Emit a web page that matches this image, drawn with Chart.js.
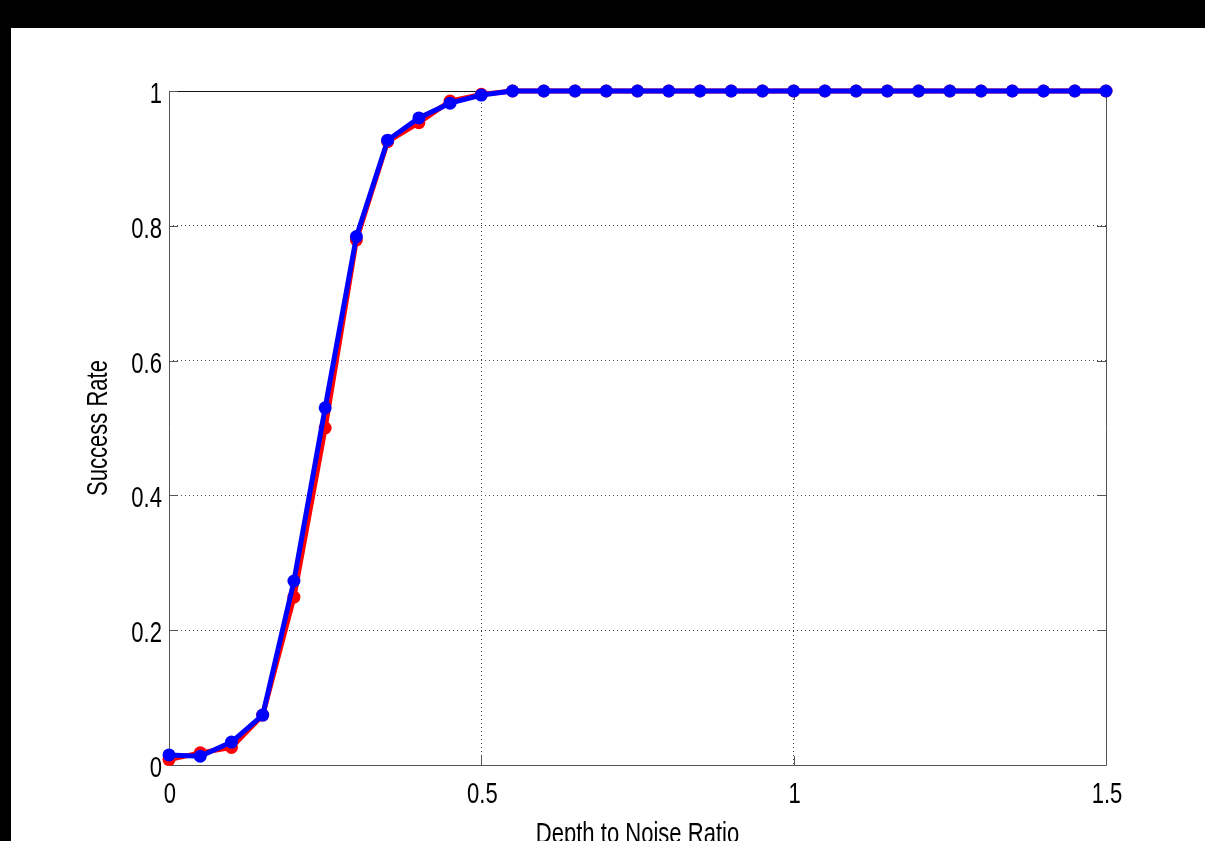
<!DOCTYPE html>
<html>
<head>
<meta charset="utf-8">
<script src="https://cdn.jsdelivr.net/npm/chart.js@4.4.0/dist/chart.umd.min.js"></script>
<style>
  html, body { margin: 0; padding: 0; background: #000; }
  canvas { display: block; }
</style>
</head>
<body>
<canvas id="rate-chart" width="1205" height="841"></canvas>
<script>
// depth to noise ratio (x) and success rate for the two runs
const ratios = [0, 0.05, 0.1, 0.15, 0.2, 0.25, 0.3, 0.35, 0.4, 0.45, 0.5, 0.55, 0.6, 0.65, 0.7, 0.75,
  0.8, 0.85, 0.9, 0.95, 1, 1.05, 1.1, 1.15, 1.2, 1.25, 1.3, 1.35, 1.4, 1.45, 1.5];
const redRate = [0.008, 0.018, 0.026, 0.074, 0.249, 0.50, 0.779, 0.925, 0.953, 0.985, 0.995, 1, 1, 1, 1, 1,
  1, 1, 1, 1, 1, 1, 1, 1, 1, 1, 1, 1, 1, 1, 1];
const blueRate = [0.015, 0.013, 0.034, 0.074, 0.273, 0.53, 0.784, 0.927, 0.96, 0.982, 0.994, 1, 1, 1, 1, 1,
  1, 1, 1, 1, 1, 1, 1, 1, 1, 1, 1, 1, 1, 1, 1];
const xTitle = "Depth to Noise Ratio";
const yTitle = "Success Rate";

const fontName = "'Liberation Sans', Arial, sans-serif";
const squeeze = 0.76; // matlab text looks horizontally condensed

const toPoints = (vals) => vals.map((v, i) => ({ x: ratios[i], y: v }));
const fmt = (v) => String(+v.toFixed(2));

// draw text squeezed horizontally, anchored at (x, y)
function narrowText(c, text, x, y, align) {
  c.save();
  c.translate(x, y);
  c.scale(squeeze, 1);
  c.textAlign = align;
  c.fillText(text, 0, 0);
  c.restore();
}

const frame = {
  id: "frame",
  beforeDraw(chart) {
    const c = chart.ctx;
    c.save();
    c.fillStyle = "#000";
    c.fillRect(0, 0, chart.width, chart.height);
    c.fillStyle = "#fff";
    c.fillRect(11, 28, chart.width - 11, chart.height - 28);
    c.restore();
  },
  beforeDatasetsDraw(chart) {
    const { ctx: c, chartArea: a, scales } = chart;
    c.save();
    c.lineWidth = 1;
    c.strokeStyle = "#555";
    c.beginPath();
    c.moveTo(a.left + 0.5, a.top);
    c.lineTo(a.left + 0.5, a.bottom + 0.5);
    c.lineTo(a.right + 0.5, a.bottom + 0.5);
    c.lineTo(a.right + 0.5, a.top);
    c.stroke();
    c.strokeStyle = "#111";
    c.beginPath();
    c.moveTo(a.left, a.top + 0.5);
    c.lineTo(a.right + 1, a.top + 0.5);
    c.stroke();
    c.strokeStyle = "#555";
    c.beginPath();
    scales.y.ticks.forEach((t) => {
      const y = Math.round(scales.y.getPixelForValue(t.value)) + 0.5;
      c.moveTo(a.left, y); c.lineTo(a.left + 9, y);
      c.moveTo(a.right, y); c.lineTo(a.right - 9, y);
    });
    scales.x.ticks.forEach((t) => {
      const x = Math.round(scales.x.getPixelForValue(t.value)) + 0.5;
      c.moveTo(x, a.bottom); c.lineTo(x, a.bottom - 9);
      c.moveTo(x, a.top); c.lineTo(x, a.top + 9);
    });
    c.stroke();
    c.restore();
  },
  afterDraw(chart) {
    const { ctx: c, chartArea: a, scales } = chart;
    c.save();
    c.fillStyle = "#000";
    c.font = "29px " + fontName;
    c.textBaseline = "alphabetic";
    scales.y.ticks.forEach((t) => {
      narrowText(c, fmt(t.value), a.left - 7, scales.y.getPixelForValue(t.value) + 12, "right");
    });
    scales.x.ticks.forEach((t) => {
      narrowText(c, fmt(t.value), scales.x.getPixelForValue(t.value) + 1, a.bottom + 38, "center");
    });
    narrowText(c, xTitle, (a.left + a.right) / 2, a.bottom + 78, "center");
    c.translate(107, (a.top + a.bottom) / 2);
    c.rotate(-Math.PI / 2);
    narrowText(c, yTitle, 0, 0, "center");
    c.restore();
  }
};

new Chart(document.getElementById("rate-chart"), {
  type: "line",
  data: {
    datasets: [
      {
        data: toPoints(blueRate),
        borderColor: "#0000ff",
        backgroundColor: "#0000ff",
        borderWidth: 5,
        pointRadius: 6.5,
        pointBorderWidth: 0,
        tension: 0,
        clip: false,
      },
      {
        data: toPoints(redRate),
        borderColor: "#ff0000",
        backgroundColor: "#ff0000",
        borderWidth: 5,
        pointRadius: 6.5,
        pointBorderWidth: 0,
        tension: 0,
        clip: false,
      },
    ],
  },
  options: {
    responsive: false,
    animation: false,
    layout: { padding: { left: 0, top: 91, right: 99, bottom: 0 } },
    plugins: { legend: { display: false }, tooltip: { enabled: false } },
    scales: {
      x: {
        type: "linear",
        min: 0,
        max: 1.5,
        afterFit: (s) => { s.height = 76; },
        ticks: { stepSize: 0.5, display: false },
        grid: { color: "#444", drawTicks: false },
        border: { display: false, dash: [1, 3] },
      },
      y: {
        min: 0,
        max: 1,
        afterFit: (s) => { s.width = 169; },
        ticks: { stepSize: 0.2, display: false },
        grid: { color: "#444", drawTicks: false },
        border: { display: false, dash: [1, 3] },
      },
    },
  },
  plugins: [frame],
});
</script>
</body>
</html>
